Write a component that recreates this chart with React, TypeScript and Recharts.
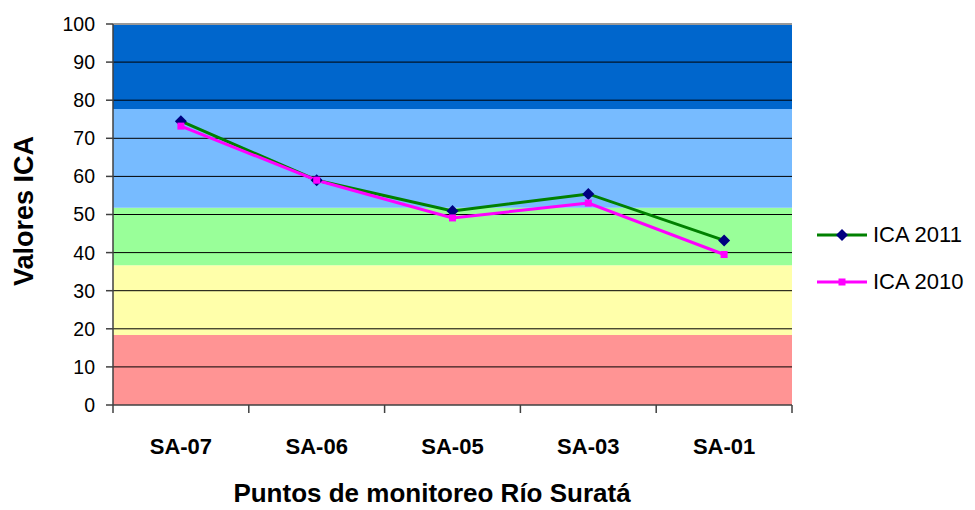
import React from 'react';
import {
  ComposedChart,
  Line,
  XAxis,
  YAxis,
  ReferenceArea,
  ReferenceLine,
} from 'recharts';

const categories = ['SA-07', 'SA-06', 'SA-05', 'SA-03', 'SA-01'];
const ica2011 = [74.5, 59, 50.9, 55.4, 43.2];
const ica2010 = [73.2, 59, 49.1, 53, 39.5];
const yTicks = [0, 10, 20, 30, 40, 50, 60, 70, 80, 90, 100];
const bandLimits = [0, 18.4, 36.7, 51.8, 77.7, 100];

const bandColors = ['#FF9494', '#FFFFAA', '#99FF99', '#77BBFF', '#0066CC'];

const W = 975;
const H = 510;
const PLOT = { top: 24, right: 183, bottom: 105, left: 113 };
const BAND = (W - PLOT.left - PLOT.right) / categories.length;
const FONT = '"Liberation Sans", Arial, sans-serif';

const data = categories.map((c, i) => ({ name: c, a2011: ica2011[i], a2010: ica2010[i] }));

function CatTick({ x, y, payload, index }: any) {
  const left = x - BAND / 2;
  const right = x + BAND / 2;
  return (
    <g>
      <line x1={left} y1={y} x2={left} y2={y + 8} stroke="#404040" strokeWidth={1.5} />
      {index === categories.length - 1 && (
        <line x1={right} y1={y} x2={right} y2={y + 8} stroke="#404040" strokeWidth={1.5} />
      )}
      <text x={x} y={y + 49} textAnchor="middle" fontSize={22} fontWeight="bold" fill="#000" fontFamily={FONT}>
        {payload.value}
      </text>
    </g>
  );
}

function Diamond({ cx, cy, index }: any) {
  if (cx == null || cy == null) return <g key={`d-${index}`} />;
  const r = 6;
  return (
    <path
      key={`d-${index}`}
      d={`M${cx},${cy - r} L${cx + r},${cy} L${cx},${cy + r} L${cx - r},${cy} Z`}
      fill="#000080"
    />
  );
}

function Square({ cx, cy, index }: any) {
  if (cx == null || cy == null) return <g key={`s-${index}`} />;
  return <rect key={`s-${index}`} x={cx - 3.5} y={cy - 3.5} width={7} height={7} fill="#FF00FF" />;
}

function LegendBox() {
  const items = [
    { label: 'ICA 2011', color: '#008000', marker: 'diamond' },
    { label: 'ICA 2010', color: '#FF00FF', marker: 'square' },
  ];
  return (
    <div style={{ position: 'absolute', left: 816, top: 211, fontFamily: FONT }}>
      {items.map((it) => (
        <div key={it.label} style={{ display: 'flex', alignItems: 'center', height: 47 }}>
          <svg width={52} height={14} style={{ marginRight: 5 }}>
            <line x1={1} y1={7} x2={51} y2={7} stroke={it.color} strokeWidth={3} />
            {it.marker === 'diamond' ? (
              <path d="M26,1 L32,7 L26,13 L20,7 Z" fill="#000080" />
            ) : (
              <rect x={22.5} y={3.5} width={7} height={7} fill="#FF00FF" />
            )}
          </svg>
          <span style={{ fontSize: 22, color: '#000' }}>{it.label}</span>
        </div>
      ))}
    </div>
  );
}

export default function App() {
  return (
    <div style={{ position: 'absolute', left: 0, top: 0, width: W, height: H, background: '#fff' }}>
      <ComposedChart
        width={W}
        height={H}
        data={data}
        margin={{ top: PLOT.top, right: PLOT.right, bottom: 0, left: 0 }}
      >
        {bandColors.map((c, i) => (
          <ReferenceArea
            key={`band-${i}`}
            y1={bandLimits[i]}
            y2={bandLimits[i + 1]}
            fill={c}
            fillOpacity={1}
            stroke="none"
            ifOverflow="visible"
          />
        ))}
        {yTicks.slice(1, -1).map((t) => (
          <ReferenceLine key={`g-${t}`} y={t} stroke="#000" strokeWidth={1} />
        ))}
        <ReferenceLine y={100} stroke="#999" strokeWidth={2} />
        <XAxis
          dataKey="name"
          scale="band"
          tickLine={false}
          tickSize={0}
          tickMargin={0}
          tick={<CatTick />}
          axisLine={{ stroke: '#404040', strokeWidth: 1.5 }}
          interval={0}
          height={PLOT.bottom}
          label={{
            content: () => (
              <text x={432} y={502} textAnchor="middle" fontSize={26} fontWeight="bold" fill="#000" fontFamily={FONT}>
                Puntos de monitoreo Río Suratá
              </text>
            ),
          }}
        />
        <YAxis
          domain={[0, 100]}
          ticks={yTicks}
          interval={0}
          tickSize={7}
          tickMargin={11}
          tick={{ fontSize: 19.5, fill: '#000', fontFamily: FONT }}
          tickLine={{ stroke: '#404040', strokeWidth: 1.5 }}
          axisLine={{ stroke: '#404040', strokeWidth: 1.5 }}
          width={PLOT.left}
          label={{
            content: () => (
              <text
                x={33}
                y={211}
                transform="rotate(-90 33 211)"
                textAnchor="middle"
                fontSize={27}
                fontWeight="bold"
                fill="#000"
                fontFamily={FONT}
              >
                Valores ICA
              </text>
            ),
          }}
        />
        <YAxis
          yAxisId="r"
          orientation="right"
          domain={[0, 100]}
          width={0}
          tick={false}
          tickLine={false}
          axisLine={{ stroke: '#999', strokeWidth: 2 }}
        />
        <Line
          type="linear"
          dataKey="a2011"
          stroke="#008000"
          strokeWidth={3}
          dot={<Diamond />}
          activeDot={false}
          isAnimationActive={false}
        />
        <Line
          type="linear"
          dataKey="a2010"
          stroke="#FF00FF"
          strokeWidth={3}
          dot={<Square />}
          activeDot={false}
          isAnimationActive={false}
        />
      </ComposedChart>
      <LegendBox />
    </div>
  );
}
